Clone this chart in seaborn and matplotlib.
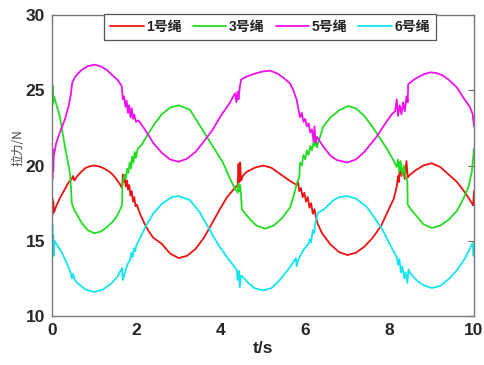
import matplotlib
matplotlib.use("Agg")
import matplotlib.pyplot as plt
import seaborn as sns
import pandas as pd
from matplotlib.lines import Line2D

# ---- rope tension time series (t in s, force in N) ----
t_rope1 = [0.00, 0.01, 0.02, 0.03, 0.05, 0.10, 0.20, 0.30, 0.40, 0.47,
           0.50, 0.53, 0.60, 0.70, 0.80, 0.90, 1.00, 1.10, 1.20, 1.30,
           1.40, 1.50, 1.60, 1.66, 1.68, 1.70, 1.72, 1.75, 1.78, 1.80,
           1.83, 1.86, 1.89, 1.92, 1.95, 1.98, 2.01, 2.10, 2.20, 2.30,
           2.40, 2.60, 2.80, 3.00, 3.20, 3.40, 3.60, 3.80, 4.00, 4.15,
           4.30, 4.40, 4.42, 4.44, 4.46, 4.48, 4.52, 4.60, 4.80, 5.00,
           5.20, 5.40, 5.60, 5.80, 5.83, 5.86, 5.90, 5.94, 5.98, 6.02,
           6.06, 6.10, 6.14, 6.18, 6.22, 6.26, 6.30, 6.40, 6.60, 6.80,
           7.00, 7.20, 7.40, 7.60, 7.80, 8.00, 8.10, 8.17, 8.20, 8.22,
           8.25, 8.28, 8.32, 8.36, 8.40, 8.43, 8.47, 8.60, 8.80, 9.00,
           9.20, 9.40, 9.60, 9.80, 9.95, 9.98, 10.00]
f_rope1 = [16.6, 17.8, 16.8, 17.6, 16.9, 17.3, 17.9, 18.4, 18.9, 19.1,
           19.3, 19.0, 19.3, 19.6, 19.85, 19.95, 20.0, 19.95, 19.85, 19.7,
           19.5, 19.2, 18.8, 18.5, 19.4, 18.9, 19.3, 18.6, 19.0, 18.4,
           18.7, 18.0, 18.3, 17.6, 17.9, 17.3, 17.4, 16.7, 16.1, 15.6,
           15.2, 14.8, 14.15, 13.85, 14.0, 14.45, 15.2, 16.2, 17.2, 17.9,
           18.4, 18.7, 20.1, 18.9, 20.2, 19.0, 19.3, 19.55, 19.85, 20.0,
           19.85, 19.45, 19.05, 18.7, 18.9, 18.3, 18.5, 17.9, 18.2, 17.6,
           17.9, 17.2, 17.5, 16.8, 17.1, 16.5, 16.1, 15.5, 14.75, 14.25,
           14.05, 14.2, 14.6, 15.2, 16.0, 17.2, 17.8, 18.6, 19.3, 18.9,
           20.2, 19.3, 19.8, 19.1, 20.3, 19.2, 19.35, 19.65, 20.0, 20.15,
           19.9, 19.4, 18.9, 18.15, 17.5, 17.35, 18.3]

t_rope3 = [0.00, 0.01, 0.02, 0.03, 0.05, 0.10, 0.19, 0.31, 0.40, 0.43,
           0.45, 0.47, 0.52, 0.58, 0.70, 0.85, 1.00, 1.15, 1.30, 1.45,
           1.55, 1.62, 1.66, 1.67, 1.72, 1.75, 1.78, 1.81, 1.84, 1.87,
           1.90, 1.93, 1.96, 1.99, 2.03, 2.13, 2.30, 2.44, 2.60, 2.80,
           3.00, 3.27, 3.45, 3.67, 3.85, 4.05, 4.22, 4.35, 4.40, 4.42,
           4.44, 4.46, 4.48, 4.50, 4.55, 4.70, 4.85, 5.05, 5.25, 5.45,
           5.64, 5.75, 5.80, 5.86, 5.88, 5.92, 5.96, 6.00, 6.04, 6.08,
           6.12, 6.16, 6.20, 6.23, 6.25, 6.28, 6.42, 6.60, 6.82, 7.02,
           7.20, 7.40, 7.60, 7.80, 7.96, 8.10, 8.17, 8.20, 8.23, 8.26,
           8.30, 8.34, 8.38, 8.42, 8.43, 8.50, 8.65, 8.80, 9.00, 9.20,
           9.40, 9.60, 9.75, 9.87, 9.95, 10.00]
f_rope3 = [25.5, 24.0, 25.3, 24.2, 24.6, 24.1, 23.2, 21.2, 19.9, 19.4,
           18.5, 17.5, 17.1, 16.8, 16.2, 15.7, 15.5, 15.6, 15.9, 16.3,
           16.7, 17.1, 17.4, 18.8, 19.4, 19.1, 19.8, 19.5, 20.2, 19.8,
           20.6, 20.2, 20.9, 20.5, 21.1, 21.4, 22.2, 22.8, 23.4, 23.85,
           24.0, 23.7, 22.9, 21.9, 21.1, 20.2, 19.1, 18.4, 18.2, 18.8,
           18.3, 18.7, 18.0, 17.1, 16.9, 16.4, 16.0, 15.8, 16.0, 16.5,
           17.2, 18.2, 18.8, 19.2, 20.2, 20.0, 20.7, 20.4, 21.0, 20.7,
           21.3, 21.0, 21.6, 21.3, 21.9, 21.2, 22.55, 23.2, 23.7, 23.95,
           23.8, 23.3, 22.55, 21.7, 21.0, 20.3, 19.9, 20.4, 19.6, 20.3,
           19.4, 20.0, 19.2, 19.0, 17.4, 17.1, 16.6, 16.1, 15.85, 16.0,
           16.4, 17.0, 17.8, 18.6, 19.6, 21.1]

t_rope5 = [0.00, 0.01, 0.02, 0.03, 0.04, 0.10, 0.20, 0.31, 0.40, 0.45,
           0.48, 0.55, 0.70, 0.85, 1.00, 1.15, 1.30, 1.45, 1.55, 1.65,
           1.68, 1.71, 1.74, 1.77, 1.80, 1.83, 1.86, 1.89, 1.92, 1.95,
           1.99, 2.05, 2.20, 2.40, 2.60, 2.80, 3.00, 3.20, 3.40, 3.60,
           3.80, 4.00, 4.20, 4.34, 4.37, 4.40, 4.42, 4.45, 4.48, 4.60,
           4.80, 5.00, 5.17, 5.35, 5.50, 5.64, 5.72, 5.80, 5.85, 5.88,
           5.92, 5.96, 6.00, 6.04, 6.08, 6.12, 6.16, 6.20, 6.22, 6.25,
           6.28, 6.43, 6.60, 6.75, 7.00, 7.20, 7.40, 7.69, 7.90, 8.05,
           8.13, 8.17, 8.20, 8.24, 8.28, 8.32, 8.36, 8.40, 8.43, 8.44,
           8.60, 8.80, 8.96, 9.10, 9.25, 9.40, 9.59, 9.75, 9.90, 9.97,
           10.00]
f_rope5 = [20.8, 19.1, 21.1, 19.6, 20.6, 21.5, 22.3, 23.1, 24.0, 24.8,
           25.5, 25.9, 26.35, 26.6, 26.7, 26.6, 26.35, 25.95, 25.7, 25.3,
           24.4, 24.6, 23.9, 24.3, 23.5, 24.0, 23.2, 23.8, 23.1, 23.4,
           22.9, 23.0, 22.4, 21.5, 20.85, 20.4, 20.25, 20.45, 20.9, 21.6,
           22.35, 23.3, 24.1, 24.8, 24.2, 24.9, 24.4, 25.2, 25.7, 25.9,
           26.1, 26.25, 26.3, 26.1, 25.8, 25.45, 25.0, 24.35, 23.6, 23.2,
           23.5, 22.9, 23.1, 22.6, 22.8, 22.2, 22.4, 21.6, 22.6, 21.5,
           21.9, 21.25, 20.65, 20.36, 20.2, 20.4, 20.9, 21.9, 22.8, 23.4,
           23.6, 24.4, 23.3, 24.0, 23.4, 24.2, 23.6, 24.6, 24.2, 25.4,
           25.75, 26.05, 26.19, 26.15, 26.0, 25.7, 25.2, 24.5, 23.9, 23.4,
           22.6]

t_rope6 = [0.00, 0.01, 0.02, 0.03, 0.04, 0.06, 0.10, 0.24, 0.35, 0.44,
           0.47, 0.50, 0.54, 0.60, 0.80, 1.00, 1.20, 1.40, 1.55, 1.66,
           1.68, 1.71, 1.75, 1.80, 1.85, 1.88, 1.91, 1.94, 1.97, 2.00,
           2.10, 2.20, 2.40, 2.60, 2.84, 3.00, 3.27, 3.50, 3.74, 3.95,
           4.15, 4.30, 4.38, 4.40, 4.43, 4.45, 4.48, 4.52, 4.65, 4.80,
           5.00, 5.20, 5.40, 5.64, 5.78, 5.80, 5.84, 5.90, 5.96, 6.02,
           6.08, 6.11, 6.14, 6.18, 6.21, 6.25, 6.30, 6.45, 6.65, 6.80,
           7.00, 7.20, 7.46, 7.65, 7.84, 8.00, 8.17, 8.20, 8.23, 8.27,
           8.30, 8.35, 8.38, 8.42, 8.45, 8.50, 8.65, 8.80, 9.00, 9.20,
           9.40, 9.60, 9.80, 9.97, 9.99, 10.00]
f_rope6 = [15.2, 16.1, 14.2, 15.4, 14.0, 15.0, 14.8, 14.2, 13.5, 12.9,
           12.5, 12.8, 12.4, 12.2, 11.75, 11.6, 11.75, 12.15, 12.6, 13.2,
           12.4, 12.7, 13.1, 13.5, 13.7, 14.2, 13.9, 14.5, 14.3, 14.7,
           15.25, 15.85, 16.8, 17.45, 17.9, 17.97, 17.7, 16.9, 15.7, 14.7,
           13.9, 13.35, 13.05, 12.4, 13.0, 11.9, 12.7, 12.6, 12.2, 11.85,
           11.7, 11.85, 12.4, 13.25, 13.85, 13.3, 13.75, 14.1, 14.4, 14.6,
           14.8, 15.1, 14.9, 15.7, 15.5, 16.3, 16.85, 17.1, 17.65, 17.9,
           17.97, 17.8, 17.25, 16.5, 15.7, 14.8, 13.9, 13.4, 13.8, 12.9,
           13.3, 12.5, 12.9, 12.2, 13.1, 12.8, 12.35, 12.05, 11.86, 12.0,
           12.45, 13.05, 13.9, 14.85, 14.0, 14.6]

rope_names = ["1号绳", "3号绳", "5号绳", "6号绳"]
rope_colors = ["#ee1111", "#22dd22", "#ee11ee", "#11e6ee"]
x_ticks = [0, 2, 4, 6, 8, 10]
y_ticks = [10, 15, 20, 25, 30]

series = [(t_rope1, f_rope1), (t_rope3, f_rope3), (t_rope5, f_rope5), (t_rope6, f_rope6)]
frames = []
for name, (tt, ff) in zip(rope_names, series):
    assert len(tt) == len(ff)
    frames.append(pd.DataFrame({"t": tt, "force": ff, "rope": name}))
df = pd.concat(frames, ignore_index=True)

sns.set_theme(style="white")
plt.rcParams["font.family"] = ["Liberation Sans", "Noto Sans CJK SC", "DejaVu Sans"]

fig = plt.figure(figsize=(4.84, 3.65), dpi=100)
ax = fig.add_axes([0.1074, 0.1342, 0.8719, 0.8247])

sns.lineplot(data=df, x="t", y="force", hue="rope", hue_order=rope_names,
             palette=rope_colors, estimator=None, sort=False,
             linewidth=1.3, legend=False, ax=ax)

ax.set_xlim(0, 10)
ax.set_ylim(10, 30)
ax.set_xticks(x_ticks)
ax.set_yticks(y_ticks)
ax.set_xticklabels([str(v) for v in x_ticks], fontsize=12.5, fontweight="bold", color="#262626")
ax.set_yticklabels([str(v) for v in y_ticks], fontsize=12.5, fontweight="bold", color="#262626")
ax.tick_params(direction="in", length=4, width=0.8, color="#666666",
               top=True, right=True, pad=5)
for sp in ax.spines.values():
    sp.set_color("#777777")
    sp.set_linewidth(1.0)

ax.set_xlabel("t/s", fontsize=12.5, fontweight="bold", color="#262626", labelpad=2)
ax.set_ylabel("拉力/N", fontsize=8.5, color="#444444",
              family=["Noto Sans CJK SC", "DejaVu Sans"])
ax.yaxis.set_label_coords(-0.066, 0.56)

handles = [Line2D([0], [0], color=c, lw=1.3) for c in rope_colors]
leg = ax.legend(handles, rope_names, loc="upper center", bbox_to_anchor=(0.517, 1.004),
                ncol=4, frameon=True, fancybox=False, borderaxespad=0,
                handlelength=2.4, handletextpad=0.2, columnspacing=0.8,
                borderpad=0.45, prop={"size": 10, "weight": "bold"})
leg.get_frame().set_edgecolor("#555555")
leg.get_frame().set_linewidth(0.9)
leg.get_frame().set_alpha(1)
for txt in leg.get_texts():
    txt.set_color("#222222")

fig.savefig("out.png", dpi=100)
